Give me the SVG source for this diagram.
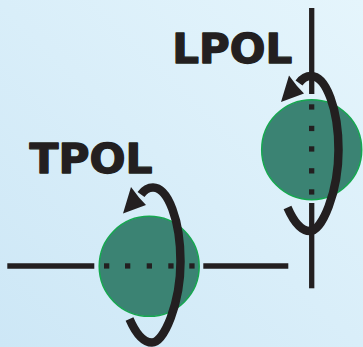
<svg xmlns="http://www.w3.org/2000/svg" xmlns:xlink="http://www.w3.org/1999/xlink" width="363" height="347" viewBox="0 0 363 347">
  <style>
    .sphere { fill: #3b8373; stroke: #16a850; stroke-width: 1.5; }
    .axis { stroke: #231f20; stroke-width: 5.3; fill: none; }
    .dot { fill: #231f20; }
    .ring { stroke: #231f20; stroke-width: 8.5; fill: none; stroke-linecap: butt; }
    .head { fill: #231f20; }
    .label { font-family: "DejaVu Sans", "Liberation Sans", sans-serif; font-weight: bold; font-size: 40px; fill: #231f20; stroke: #231f20; stroke-width: 1.3; stroke-linejoin: round; }
  </style>
  <defs>
    <linearGradient id="bg" x1="0" y1="1" x2="1" y2="0">
      <stop offset="0" stop-color="#cde7f6"/>
      <stop offset="1" stop-color="#e5f5fc"/>
    </linearGradient>
    <g id="rot">
      <path class="ring" d="M 287.5 207.5 C 292.3 218.5 300 231 310 231 C 322 231 338.5 192 338.5 150 C 338.5 109 326 76 311 76 C 305 76 301.5 79.5 299 83"/>
      <polygon class="head" points="281,102 289,75.5 297,86 304,93.5"/>
    </g>
  </defs>
  <rect x="0" y="0" width="363" height="347" fill="url(#bg)"/>

  <g id="lpol">
    <circle class="sphere" cx="311.7" cy="149.7" r="50"/>
    <line class="axis" x1="311.7" y1="8" x2="311.7" y2="94"/>
    <line class="axis" x1="311.7" y1="203" x2="311.7" y2="288.3"/>
    <rect class="dot" x="309" y="104.3" width="5.3" height="5.3"/>
    <rect class="dot" x="309" y="125.8" width="5.3" height="5.3"/>
    <rect class="dot" x="309" y="146.3" width="5.3" height="5.3"/>
    <rect class="dot" x="309" y="168.2" width="5.3" height="5.3"/>
    <rect class="dot" x="309" y="189.3" width="5.3" height="5.3"/>
    <use xlink:href="#rot"/>
    <text class="label" x="172.2" y="62.7" textLength="120" lengthAdjust="spacingAndGlyphs">LPOL</text>
  </g>

  <g id="tpol">
    <circle class="sphere" cx="149.2" cy="266.3" r="50"/>
    <line class="axis" x1="7.3" y1="266" x2="94.3" y2="266"/>
    <line class="axis" x1="203.3" y1="266" x2="288.3" y2="266"/>
    <rect class="dot" x="104" y="263.3" width="5.3" height="5.3"/>
    <rect class="dot" x="125" y="263.3" width="5.3" height="5.3"/>
    <rect class="dot" x="146.7" y="263.3" width="5.3" height="5.3"/>
    <rect class="dot" x="168.3" y="263.3" width="5.3" height="5.3"/>
    <rect class="dot" x="189.3" y="263.3" width="5.3" height="5.3"/>
    <use xlink:href="#rot" transform="translate(-158 111.5)"/>
    <text class="label" x="29.6" y="172.7" textLength="123" lengthAdjust="spacingAndGlyphs">TPOL</text>
  </g>
</svg>
